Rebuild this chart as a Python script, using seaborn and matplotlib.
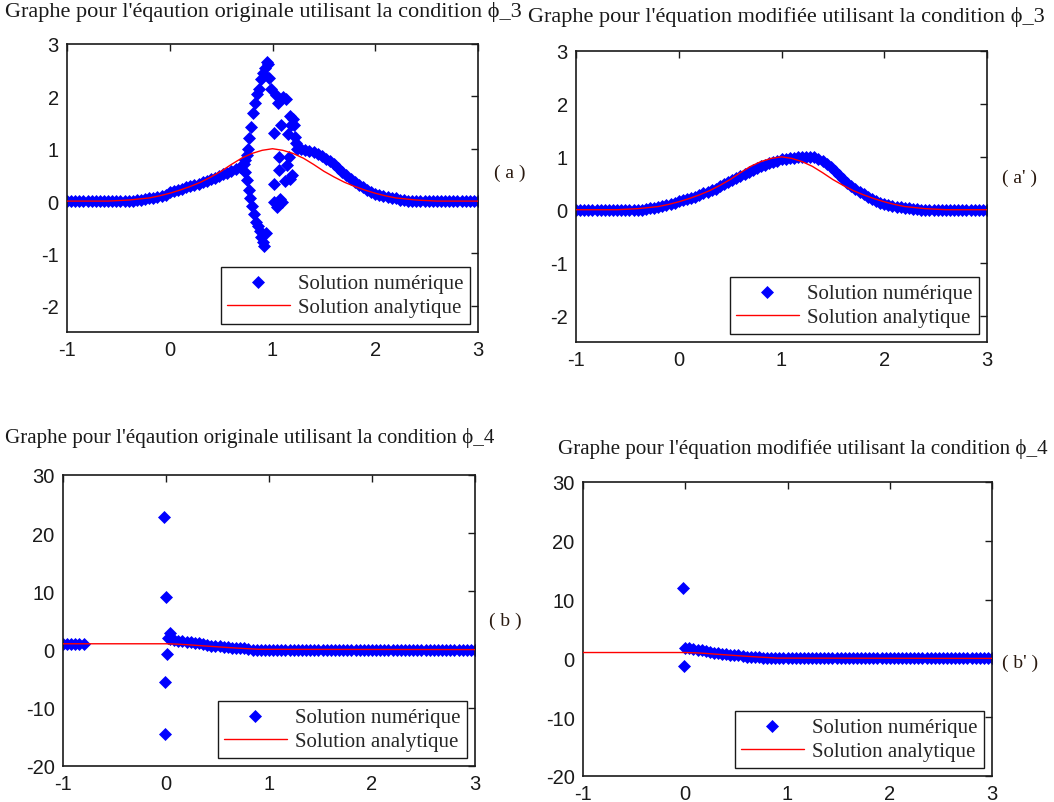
import numpy as np
import pandas as pd
import matplotlib
matplotlib.use("Agg")
import matplotlib.pyplot as plt
import seaborn as sns

# ---------------------------------------------------------------
# Data
# ---------------------------------------------------------------
# analytic solution, condition phi_3 (x = -1.0 .. 3.0, step 0.1)
x_ana3 = np.round(np.arange(-1.0, 3.0001, 0.1), 2)
y_ana3 = [0, 0, 0, 0, 0,
          0.01, 0.02, 0.04, 0.06, 0.10, 0.15, 0.21, 0.28, 0.36, 0.46,
          0.57, 0.70, 0.82, 0.91, 0.97,
          1.00,
          0.97, 0.91, 0.82, 0.70, 0.57, 0.46, 0.36, 0.28, 0.21, 0.15,
          0.10, 0.06, 0.04, 0.02, 0.01,
          0, 0, 0, 0, 0]

# analytic solution, condition phi_4
x_ana4 = [-1.0, 0.0, 0.1, 0.2, 0.3, 0.4, 0.5, 0.6, 0.7, 0.8, 0.9, 3.0]
y_ana4 = [1.0, 1.0, 0.95, 0.85, 0.72, 0.60, 0.48, 0.36, 0.25, 0.15, 0.05, 0.0]

# (a) original equation, phi_3 : smooth parts on a 0.04 grid
x_a_left = np.round(np.arange(-1.0, 0.6801, 0.04), 2)
y_a_left = [0] * 17 + [0.02, 0.03, 0.04, 0.05, 0.06, 0.08, 0.10, 0.12,
                       0.18, 0.20, 0.22, 0.24, 0.27, 0.29, 0.31, 0.33, 0.36,
                       0.39, 0.42, 0.45, 0.48, 0.51, 0.54, 0.58, 0.62, 0.66]
x_a_right = np.round(np.arange(1.24, 3.0001, 0.04), 2)
y_a_right = [1.00, 0.99, 0.97, 0.95, 0.93, 0.90, 0.86, 0.81, 0.76, 0.70,
             0.63, 0.56, 0.49, 0.42, 0.36, 0.31, 0.26, 0.21, 0.17, 0.14,
             0.11, 0.09, 0.07, 0.06, 0.05, 0.03, 0.02, 0.01] + [0] * 17
# (a) oscillating points around x = 1
x_a_osc = [0.72, 0.73, 0.75, 0.76, 0.77, 0.79, 0.81, 0.83, 0.85, 0.87, 0.89,
           0.91, 0.93, 0.95, 0.96,
           0.73, 0.75, 0.77, 0.78, 0.80, 0.82, 0.84, 0.86, 0.88, 0.89, 0.91,
           0.92, 0.94,
           0.97, 0.99, 1.01, 1.01, 1.01, 1.03, 1.04, 1.05, 1.06, 1.06, 1.07,
           1.08, 1.09, 1.10, 1.12, 1.13, 1.14, 1.15, 1.16, 1.17, 1.17, 1.18,
           1.19, 1.20, 1.21, 1.22, 1.23]
y_a_osc = [0.70, 0.78, 0.88, 1.00, 1.20, 1.42, 1.68, 1.88, 2.05, 2.15, 2.33,
           2.45, 2.55, 2.65, 2.62,
           0.55, 0.40, 0.22, 0.05, -0.10, -0.25, -0.40, -0.48, -0.58, -0.68,
           -0.78, -0.86, -0.60,
           2.35, 2.15, 1.30, 0.33, -0.02, 2.02, -0.12, 1.88, 0.84, 0.59, 0.04,
           1.45, -0.02, 1.98, 0.39, 1.95, 0.68, 1.29, 0.84, 0.43, 1.62, 1.45,
           0.50, 1.57, 1.45, 1.22, 1.10]

# (a') modified equation, phi_3 (x = -1.0 .. 3.0, step 0.04)
x_ap = np.round(np.arange(-1.0, 3.0001, 0.04), 2)
y_ap = ([0] * 17 +
        [0.02, 0.03, 0.04, 0.05, 0.07, 0.09, 0.11, 0.13] +
        [0.16, 0.18, 0.20, 0.23, 0.25, 0.28, 0.31, 0.34, 0.37, 0.40, 0.44,
         0.48, 0.52, 0.56, 0.60, 0.64, 0.68, 0.72, 0.76, 0.79, 0.82, 0.85,
         0.88, 0.91, 0.93, 0.95] +
        [0.96, 0.97, 0.98, 0.99, 1.00, 1.00, 1.00, 0.99, 0.96, 0.92, 0.87,
         0.81, 0.74, 0.66, 0.58, 0.50, 0.45, 0.40, 0.34, 0.29, 0.24, 0.20,
         0.16, 0.13, 0.11, 0.09, 0.07, 0.06, 0.05, 0.04, 0.03, 0.02, 0.01] +
        [0] * 17)

# (b) original equation, phi_4
x_b_left = [-1.00, -0.96, -0.92, -0.88, -0.84, -0.80]
y_b_left = [1.0, 1.0, 1.0, 1.0, 1.0, 1.0]
x_b_spike = [-0.02, 0.00, 0.04, 0.02, 0.01, -0.01, -0.01]
y_b_spike = [22.8, 9.1, 2.9, 2.0, -0.8, -5.5, -14.5]
x_b_band = np.round(np.arange(0.04, 3.0001, 0.04), 2)
y_b_band = [1.9, 1.6, 1.5, 1.4, 1.3, 1.3, 1.2, 1.1, 1.0, 0.8, 0.7, 0.6, 0.6,
            0.5, 0.4, 0.3, 0.3, 0.2, 0.2, 0.1] + [0] * 55

# (b') modified equation, phi_4
x_bp_spike = [-0.02, -0.01]
y_bp_spike = [12.0, -1.3]
x_bp_band = np.round(np.arange(0.0, 3.0001, 0.04), 2)
y_bp_band = [1.8, 1.7, 1.6, 1.5, 1.4, 1.2, 1.1, 1.0, 0.9, 0.8, 0.7, 0.6, 0.5,
             0.5, 0.4, 0.3, 0.3, 0.2, 0.2, 0.1, 0.1] + [0] * 55

titles = ["Graphe pour l'éqaution originale utilisant la condition ϕ_3",
          "Graphe pour l'équation modifiée utilisant la condition ϕ_3",
          "Graphe pour l'éqaution originale utilisant la condition ϕ_4",
          "Graphe pour l'équation modifiée utilisant la condition ϕ_4"]
tags = ["( a )", "( a' )", "( b )", "( b' )"]

# ---------------------------------------------------------------
# Frames
# ---------------------------------------------------------------
num_a = pd.DataFrame({"x": np.concatenate([x_a_left, x_a_osc, x_a_right]),
                      "y": np.concatenate([y_a_left, y_a_osc, y_a_right])})
num_ap = pd.DataFrame({"x": x_ap, "y": y_ap})
num_b = pd.DataFrame({"x": np.concatenate([x_b_left, x_b_spike, x_b_band]),
                      "y": np.concatenate([y_b_left, y_b_spike, y_b_band])})
num_bp = pd.DataFrame({"x": np.concatenate([x_bp_spike, x_bp_band]),
                       "y": np.concatenate([y_bp_spike, y_bp_band])})
ana3 = pd.DataFrame({"x": x_ana3, "y": y_ana3})
ana4 = pd.DataFrame({"x": x_ana4, "y": y_ana4})

# ---------------------------------------------------------------
# Figure
# ---------------------------------------------------------------
sns.set_style("white")
plt.rcParams["font.family"] = ["Liberation Sans", "DejaVu Sans"]
plt.rcParams["axes.unicode_minus"] = False

SERIF = ["Liberation Serif", "DejaVu Serif"]
W, H = 1054, 803
fig = plt.figure(figsize=(W / 100, H / 100), dpi=100)

# axes boxes in pixels: left, top, right, bottom
boxes = [(67, 45, 478, 333), (576, 52, 987, 343),
         (63, 476, 475, 767), (583, 483, 992, 777)]
title_pos = [(5, 12, 16.0), (528, 17, 16.0), (5, 438, 15.1), (558, 449, 15.1)]
tag_pos = [(510, 173), (1020, 178), (505, 621), (1020, 663)]
ylims = [(-2.5, 3), (-2.5, 3), (-20, 30), (-20, 30)]
yticks = [range(-2, 4), range(-2, 4), range(-20, 31, 10), range(-20, 31, 10)]
nums = [num_a, num_ap, num_b, num_bp]
anas = [ana3, ana3, ana4, ana4]

for i in range(4):
    l, t, r, b = boxes[i]
    ax = fig.add_axes([l / W, 1 - b / H, (r - l) / W, (b - t) / H])

    sns.scatterplot(data=nums[i], x="x", y="y", marker="D", s=44,
                    color="blue", edgecolor="blue", linewidth=0,
                    label="Solution numérique", ax=ax, zorder=2)
    sns.lineplot(data=anas[i], x="x", y="y", color="red", linewidth=1.0,
                 label="Solution analytique", ax=ax, zorder=3)

    ax.set_xlim(-1, 3)
    ax.set_ylim(*ylims[i])
    ax.set_xticks(range(-1, 4))
    ax.set_yticks(list(yticks[i]))
    ax.set_xlabel("")
    ax.set_ylabel("")
    ax.tick_params(direction="in", top=True, right=True, length=5, width=1,
                   labelsize=14.5, pad=6, colors="#1a1a1a")
    for sp in ax.spines.values():
        sp.set_visible(True)
        sp.set_color("#1a1a1a")
        sp.set_linewidth(1.2)

    leg = ax.legend(loc="lower right", frameon=True, fancybox=False,
                    edgecolor="#1a1a1a", framealpha=1, borderaxespad=0.4,
                    handlelength=3.0, handletextpad=0.4, labelspacing=0.25,
                    borderpad=0.3, scatterpoints=1,
                    prop={"family": SERIF, "size": 15})
    leg.get_frame().set_linewidth(1.0)

    tx, ty, fs = title_pos[i]
    fig.text(tx / W, 1 - ty / H, titles[i], ha="left", va="center",
             fontsize=fs, family=SERIF, color="#1a1a1a")
    gx, gy = tag_pos[i]
    fig.text(gx / W, 1 - gy / H, tags[i], ha="center", va="center",
             fontsize=14, family=SERIF, color="#2a1a10")

fig.savefig("out.png", dpi=100)
